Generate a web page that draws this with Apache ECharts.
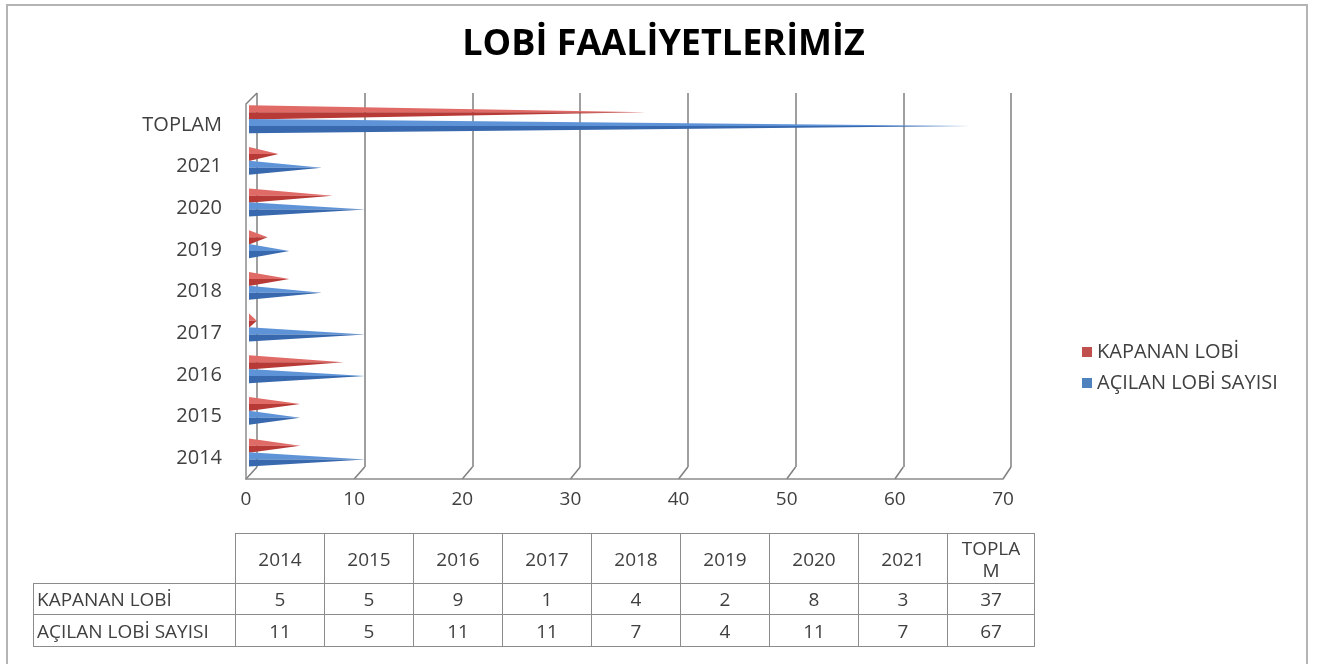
<!DOCTYPE html>
<html><head><meta charset="utf-8">
<script src="https://cdn.jsdelivr.net/npm/echarts@6/dist/echarts.min.js"></script>
<style>
body{margin:0;background:#fff;}
#chart{position:absolute;left:0;top:0;width:1327px;height:666px;}
#frame{position:absolute;left:6px;top:4px;width:1302px;height:660px;border:2px solid #b4b4b4;border-bottom:none;box-sizing:border-box;pointer-events:none;}
#tbl{position:absolute;left:33px;top:533px;border-collapse:collapse;table-layout:fixed;font-family:'Open Sans',sans-serif;font-size:19px;color:#404040;}
#tbl td{border:1.5px solid #8c8c8c;text-align:center;padding:0;white-space:pre-line;line-height:22px;}
#tbl td.lbl{text-align:left;padding-left:3px;}
#tbl td.blank{border-top:none;border-left:none;}
</style>
</head><body>
<div id="chart"></div>
<div id="frame"></div>
<table id="tbl"></table>
<script>
const titleText = 'LOBİ FAALİYETLERİMİZ';
const categories = ['2014', '2015', '2016', '2017', '2018', '2019', '2020', '2021', 'TOPLAM'];
const tableHeaders = ['2014', '2015', '2016', '2017', '2018', '2019', '2020', '2021', 'TOPLA\nM'];
const seriesNames = ['KAPANAN LOBİ', 'AÇILAN LOBİ SAYISI'];
const kapanan = [5, 5, 9, 1, 4, 2, 8, 3, 37];
const acilan = [11, 5, 11, 11, 7, 4, 11, 7, 67];
const xTicks = [0, 10, 20, 30, 40, 50, 60, 70];

// ---- data table ----
const tbl = document.getElementById('tbl');
const colW = [202, 89, 89, 89, 89, 89, 89, 89, 89, 87];
const cg = document.createElement('colgroup');
colW.forEach(w => { const c = document.createElement('col'); c.style.width = w + 'px'; cg.appendChild(c); });
tbl.appendChild(cg);
function addRow(label, vals, h, cls) {
  const tr = document.createElement('tr');
  tr.style.height = h + 'px';
  const td0 = document.createElement('td');
  td0.className = cls; td0.textContent = label; tr.appendChild(td0);
  vals.forEach(v => { const td = document.createElement('td'); td.textContent = v; tr.appendChild(td); });
  tbl.appendChild(tr);
}
addRow('', tableHeaders, 50, 'blank');
addRow(seriesNames[0], kapanan, 31, 'lbl');
addRow(seriesNames[1], acilan, 32, 'lbl');

// ---- chart ----
const chart = echarts.init(document.getElementById('chart'), null, {renderer: 'canvas'});
const font = "'Open Sans', sans-serif";

function pyramid(offset, topCol, botCol) {
  return function (params, api) {
    const cat = api.value(0), val = api.value(1);
    const base = api.coord([0, cat]);
    const tip = api.coord([val, cat]);
    const band = api.size([0, 1])[1];
    const cy = base[1] + offset * band;
    const h = 0.17 * band;
    const x0 = base[0] + 3;
    return {
      type: 'group',
      children: [
        {type: 'polygon', shape: {points: [[x0, cy - h], [tip[0], cy], [x0, cy]]}, style: {fill: topCol}},
        {type: 'polygon', shape: {points: [[x0, cy], [tip[0], cy], [x0, cy + h]]}, style: {fill: botCol}}
      ]
    };
  };
}

const option = {
  animation: false,
  backgroundColor: '#fff',
  title: {
    text: titleText, left: 'center', top: 22,
    textStyle: {fontFamily: font, fontSize: 36, fontWeight: 'bold', color: '#000'}
  },
  legend: {
    orient: 'vertical', left: 1077, top: 337, icon: 'rect', itemWidth: 10, itemHeight: 10, itemGap: 11,
    data: seriesNames,
    textStyle: {fontFamily: font, fontSize: 20, color: '#404040'}
  },
  grid: [
    {left: 246, right: 324, top: 104, bottom: 187},
    {left: 257, right: 316, top: 93, bottom: 199}
  ],
  xAxis: [
    {
      type: 'value', gridIndex: 0, min: 0, max: 70, interval: 10,
      axisLine: {show: true, lineStyle: {color: '#8c8c8c', width: 1.5}},
      axisTick: {show: false}, splitLine: {show: false},
      axisLabel: {fontFamily: font, fontSize: 19, color: '#404040', margin: 11}
    },
    {
      type: 'value', gridIndex: 1, min: 0, max: 70, interval: 10,
      axisLine: {show: false}, axisTick: {show: false}, axisLabel: {show: false},
      splitLine: {show: true, lineStyle: {color: '#7f7f7f', width: 1.5}}
    }
  ],
  yAxis: [
    {
      type: 'category', gridIndex: 0, data: categories,
      axisLine: {show: true, lineStyle: {color: '#8c8c8c', width: 1.5}},
      axisTick: {show: false},
      axisLabel: {fontFamily: font, fontSize: 20, color: '#404040', margin: 24}
    },
    {
      type: 'category', gridIndex: 1, data: categories, show: false
    }
  ],
  series: [
    {
      name: seriesNames[0], type: 'custom', xAxisIndex: 0, yAxisIndex: 0,
      itemStyle: {color: '#c0504d'},
      renderItem: pyramid(-0.3, '#e06a66', '#b83a37'),
      encode: {x: 1, y: 0},
      data: kapanan.map((v, i) => [i, v])
    },
    {
      name: seriesNames[1], type: 'custom', xAxisIndex: 0, yAxisIndex: 0,
      itemStyle: {color: '#4f81bd'},
      renderItem: pyramid(0.03, '#5f93d8', '#3868ad'),
      encode: {x: 1, y: 0},
      data: acilan.map((v, i) => [i, v])
    }
  ]
};
chart.setOption(option);

// 3D floor diagonals linking front axis to back wall
const lines = [];
const frontY = 666 - 187, backY = 666 - 199;
xTicks.forEach(v => {
  const fx = chart.convertToPixel({xAxisIndex: 0}, v);
  const bx = chart.convertToPixel({xAxisIndex: 1}, v);
  lines.push({type: 'line', shape: {x1: fx, y1: frontY, x2: bx, y2: backY}, style: {stroke: '#7f7f7f', lineWidth: 1.5}});
});
const fx0 = chart.convertToPixel({xAxisIndex: 0}, 0);
const bx0 = chart.convertToPixel({xAxisIndex: 1}, 0);
lines.push({type: 'line', shape: {x1: fx0, y1: 104, x2: bx0, y2: 93}, style: {stroke: '#7f7f7f', lineWidth: 1.5}});
chart.setOption({graphic: lines});
</script>
</body></html>
